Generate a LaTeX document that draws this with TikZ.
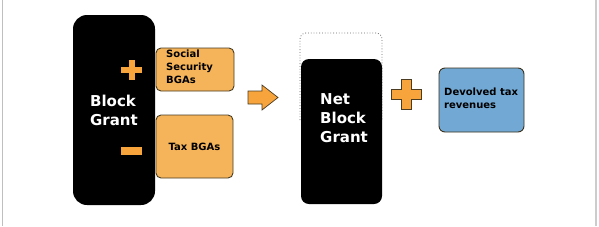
\documentclass[tikz,border=0pt]{standalone}
\usepackage{fontspec}
\setmainfont{DejaVu Sans}
\usepackage{tikz}
\usetikzlibrary{positioning}

\definecolor{grantorange}{HTML}{F5B45A}
\definecolor{signorange}{HTML}{F7A43C}
\definecolor{taxblue}{HTML}{72A9D4}
\definecolor{edgebrown}{HTML}{4A3C22}

\begin{document}
\begin{tikzpicture}[x=1pt,y=-1pt,
  grant/.style={fill=black,rounded corners=14pt,inner sep=0pt,text=white,align=left,font=\bfseries\fontsize{15}{19}\selectfont},
  bga/.style={draw=edgebrown,line width=0.9pt,fill=grantorange,rounded corners=5pt,inner sep=0pt,font=\bfseries\fontsize{10}{13}\selectfont},
  devolved/.style={draw=edgebrown!80!black,line width=0.9pt,fill=taxblue,rounded corners=6pt,inner sep=0pt},
  small/.style={font=\bfseries\fontsize{10}{13}\selectfont,align=left,inner sep=0pt},
  sign/.style={fill=signorange},
  every node/.style={}]
\useasboundingbox (0,0) rectangle (599,226);
% slide edges
\draw[gray!50,line width=1.2pt] (2.5,0) -- (2.5,226);
\draw[gray!40,line width=1.2pt] (596,0) -- (596,226);

% gross block grant and its adjustments
\node[grant,minimum width=82pt,minimum height=190pt] (bg) at (114,110) {Block\\Grant};
\fill[sign] (121,67) rectangle (142,73);
\fill[sign] (128.5,60) rectangle (134.5,80);
\fill[sign] (121,147) rectangle (142,155);
\node[bga,minimum width=78pt,minimum height=43pt] (ss) at (195,69.5) {};
\node[small,anchor=north west] (sstext) at (166,50) {Social\\Security\\BGAs};
\node[bga,minimum width=77pt,minimum height=63pt] (tax) at (194.5,146.5) {Tax BGAs};

% arrow to the net grant
\draw[edgebrown,fill=signorange,line width=0.7pt] (248,91) -- (262,91) -- (262,85) -- (278,97.5)
  -- (262,110) -- (262,104) -- (248,104) -- cycle;

% net block grant
\draw[gray!80!black,dotted,thick,rounded corners=6pt] (300,120) -- (300,33) -- (382,33) -- (382,120);
\node[grant,minimum width=81pt,minimum height=145pt,rounded corners=8pt] (nbg) at (341.5,131.5) {};
\node[grant,fill=none,anchor=west] (nbgtext) at (320,118) {Net\\Block\\Grant};

% plus devolved taxes
\draw[edgebrown,fill=signorange,line width=0.9pt] (401,79) -- (411,79) -- (411,89) -- (421,89) -- (421,99)
  -- (411,99) -- (411,109) -- (401,109) -- (401,99) -- (391,99) -- (391,89) -- (401,89) -- cycle;
\node[devolved,minimum width=85pt,minimum height=64pt] (dev) at (481.5,100) {};
\node[small,anchor=north west] (devtext) at (444,88) {Devolved tax\\revenues};
\end{tikzpicture}
\end{document}
